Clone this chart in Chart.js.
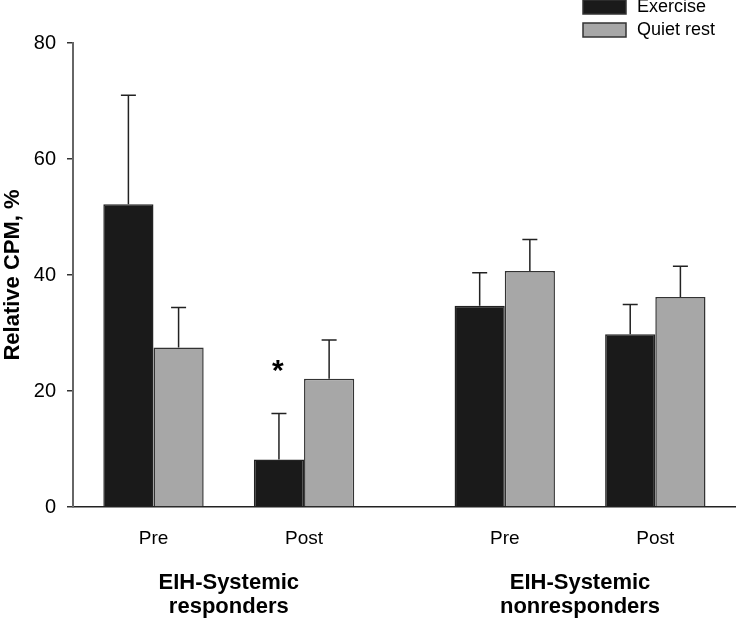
<!DOCTYPE html>
<html>
<head>
<meta charset="utf-8">
<script src="https://cdn.jsdelivr.net/npm/chart.js@4.4.0/dist/chart.umd.min.js"></script>
<style>
  html, body { margin: 0; padding: 0; background: #fff; }
  #wrap { width: 736px; height: 622px; }
</style>
</head>
<body>
<div id="wrap"><canvas id="cpmChart" width="736" height="622"></canvas></div>
<script>
// --- Data ---
const tickLabels = ['Pre', 'Post', 'Pre', 'Post'];
const groupLabels = [['EIH-Systemic', 'responders'], ['EIH-Systemic', 'nonresponders']];
const exerciseMean = [52.2, 8.2, 34.7, 29.8];
const exerciseErr = [18.8, 7.9, 5.7, 5.1];
const quietMean = [27.5, 22.1, 40.7, 36.2];
const quietErr = [6.9, 6.7, 5.4, 5.3];
const exerciseSig = ['', '*', '', ''];
const yTicks = [0, 20, 40, 60, 80];

const FONT = "'Liberation Sans', Arial, sans-serif";

// x positions of the four time points (gap of one slot between the two groups)
const catPos = tickLabels.map((_, i) => i * 3 + (i >= 2 ? 1 : 0) + 1);
const groupPos = [(catPos[0] + catPos[1]) / 2, (catPos[2] + catPos[3]) / 2];
const X_MIN = -0.604, X_MAX = 12.608;

// error bars (upper side only, with a cap)
const errorBarPlugin = {
  id: 'errorBars',
  afterDatasetsDraw(chart) {
    const ctx = chart.ctx;
    const yScale = chart.scales.y;
    chart.data.datasets.forEach((ds, d) => {
      const meta = chart.getDatasetMeta(d);
      meta.data.forEach((bar, i) => {
        const top = yScale.getPixelForValue(ds.data[i].y + ds.errors[i]);
        ctx.save();
        ctx.strokeStyle = '#222';
        ctx.lineWidth = 1.5;
        ctx.beginPath();
        ctx.moveTo(bar.x, bar.y);
        ctx.lineTo(bar.x, top);
        ctx.moveTo(bar.x - 7.5, top);
        ctx.lineTo(bar.x + 7.5, top);
        ctx.stroke();
        // significance mark
        if (ds.sig && ds.sig[i]) {
          ctx.fillStyle = '#000';
          ctx.font = 'bold 30px ' + FONT;
          ctx.textAlign = 'center';
          ctx.textBaseline = 'middle';
          ctx.fillText(ds.sig[i], bar.x - 1, top - 42);
        }
        ctx.restore();
      });
    });
  }
};

// small legend in the top right corner
const cornerLegend = {
  id: 'cornerLegend',
  afterDraw(chart) {
    const ctx = chart.ctx;
    ctx.save();
    chart.data.datasets.forEach((ds, d) => {
      const cy = 7 + d * 23;
      ctx.fillStyle = ds.backgroundColor;
      ctx.strokeStyle = '#333';
      ctx.lineWidth = 1.5;
      ctx.fillRect(583, cy - 7, 43, 14);
      ctx.strokeRect(583, cy - 7, 43, 14);
      ctx.fillStyle = '#000';
      ctx.font = '18px ' + FONT;
      ctx.textAlign = 'left';
      ctx.textBaseline = 'middle';
      ctx.fillText(ds.label, 637, cy);
    });
    ctx.restore();
  }
};

const ctx = document.getElementById('cpmChart').getContext('2d');
const cpmChart = new Chart(ctx, {
  type: 'bar',
  data: {
    datasets: [{
      label: 'Exercise',
      data: exerciseMean.map((v, i) => ({ x: catPos[i], y: v })),
      errors: exerciseErr,
      sig: exerciseSig,
      backgroundColor: '#1a1a1a',
      borderColor: '#222',
      borderWidth: 1.5
    }, {
      label: 'Quiet rest',
      data: quietMean.map((v, i) => ({ x: catPos[i], y: v })),
      errors: quietErr,
      backgroundColor: '#a7a7a7',
      borderColor: '#333',
      borderWidth: 1.5
    }]
  },
  options: {
    responsive: false,
    animation: false,
    devicePixelRatio: 1,
    categoryPercentage: 2 / 3,
    barPercentage: 1,
    layout: { padding: { top: 43, right: 0, bottom: 0, left: 0 } },
    plugins: {
      legend: { display: false },
      tooltip: { enabled: false }
    },
    scales: {
      x: {
        type: 'linear',
        min: X_MIN,
        max: X_MAX,
        offset: false,
        weight: 0,
        afterBuildTicks: (scale) => { scale.ticks = catPos.map(v => ({ value: v })); },
        afterFit: (scale) => { scale.height = 55; },
        grid: { display: true, drawOnChartArea: false, drawTicks: false, offset: false },
        border: { display: true, color: '#222', width: 1.5 },
        ticks: {
          autoSkip: false,
          maxRotation: 0,
          padding: 20,
          color: '#000',
          font: { family: FONT, size: 19 },
          callback: (v, i) => tickLabels[i]
        }
      },
      x2: {
        type: 'linear',
        position: 'bottom',
        min: X_MIN,
        max: X_MAX,
        offset: false,
        weight: 1,
        afterBuildTicks: (scale) => { scale.ticks = groupPos.map(v => ({ value: v })); },
        afterFit: (scale) => { scale.height = 60; },
        grid: { display: false, drawTicks: false },
        border: { display: false },
        ticks: {
          autoSkip: false,
          maxRotation: 0,
          padding: 9,
          color: '#000',
          font: { family: FONT, size: 22, weight: 'bold', lineHeight: 1.1 },
          callback: (v, i) => groupLabels[i]
        }
      },
      y: {
        min: 0,
        max: 80,
        afterBuildTicks: (scale) => { scale.ticks = yTicks.map(v => ({ value: v })); },
        afterFit: (scale) => { scale.width = 73; },
        grid: { drawOnChartArea: false, drawTicks: true, tickLength: 6, color: '#333', lineWidth: 1.5 },
        border: { display: true, color: '#666', width: 2 },
        ticks: {
          padding: 11,
          color: '#000',
          font: { family: FONT, size: 20 }
        },
        title: {
          display: true,
          text: 'Relative CPM, %',
          color: '#000',
          padding: { top: 0, bottom: 0 },
          font: { family: FONT, size: 22, weight: 'bold' }
        }
      }
    }
  },
  plugins: [errorBarPlugin, cornerLegend]
});
</script>
</body>
</html>
